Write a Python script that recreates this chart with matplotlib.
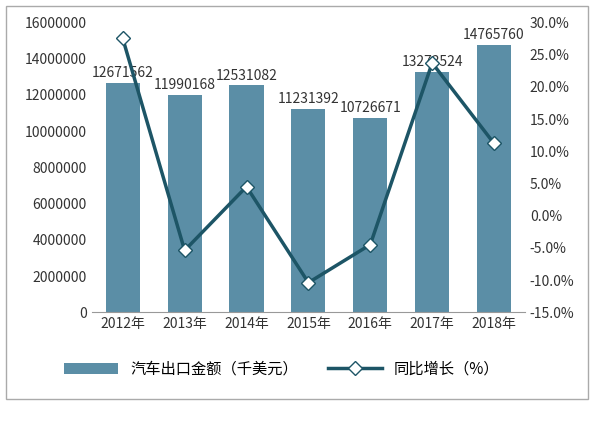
import matplotlib
matplotlib.use("Agg")
import matplotlib.pyplot as plt
import matplotlib.ticker as mt

plt.rcParams['font.family'] = ['Noto Sans CJK SC', 'DejaVu Sans']

years = ["2012年", "2013年", "2014年", "2015年", "2016年", "2017年", "2018年"]
export_value = [12671562, 11990168, 12531082, 11231392, 10726671, 13273524, 14765760]
growth = [27.5, -5.4, 4.5, -10.4, -4.5, 23.7, 11.2]

fig = plt.figure(figsize=(6.0, 4.22), dpi=100)
ax = fig.add_axes([0.153, 0.26, 0.722, 0.687])
x = range(len(years))
bars = ax.bar(x, export_value, width=0.55, color="#5b8ea6", label="汽车出口金额（千美元）")
ax.set_ylim(0, 16000000)
ax.set_yticks(range(0, 16000001, 2000000))
ax.yaxis.set_major_formatter(mt.FuncFormatter(lambda v, p: f"{int(v)}"))
ax.set_xticks(list(x))
ax.set_xticklabels(years)
ax.set_xlim(-0.5, len(years) - 0.5)
for xi, v in zip(x, export_value):
    ax.text(xi, v + 150000, str(v), ha="center", va="bottom", fontsize=10, color="#333333")
for s in ["top", "right", "left"]:
    ax.spines[s].set_visible(False)
ax.spines["bottom"].set_color("#999999")
ax.tick_params(length=0, labelsize=10, colors="#333333")

ax2 = ax.twinx()
line, = ax2.plot(x, growth, color="#1d5566", lw=2.5, marker="D", markersize=7,
                 markerfacecolor="white", markeredgecolor="#1d5566", label="同比增长（%）")
ax2.set_ylim(-15, 30)
ax2.set_yticks(range(-15, 31, 5))
ax2.yaxis.set_major_formatter(mt.FuncFormatter(lambda v, p: f"{v:.1f}%"))
for s in ["top", "right", "left", "bottom"]:
    ax2.spines[s].set_visible(False)
ax2.tick_params(length=0, labelsize=10, colors="#333333")

fig.legend(handles=[bars, line], loc="center", bbox_to_anchor=(0.47, 0.125), ncol=2,
           frameon=False, fontsize=11, handlelength=3.5, columnspacing=2)
fig.patches.append(plt.Rectangle((0.01, 0.055), 0.97, 0.93, transform=fig.transFigure,
                                 fill=False, edgecolor="#aaaaaa", lw=1))
fig.savefig("out.png", dpi=100)
